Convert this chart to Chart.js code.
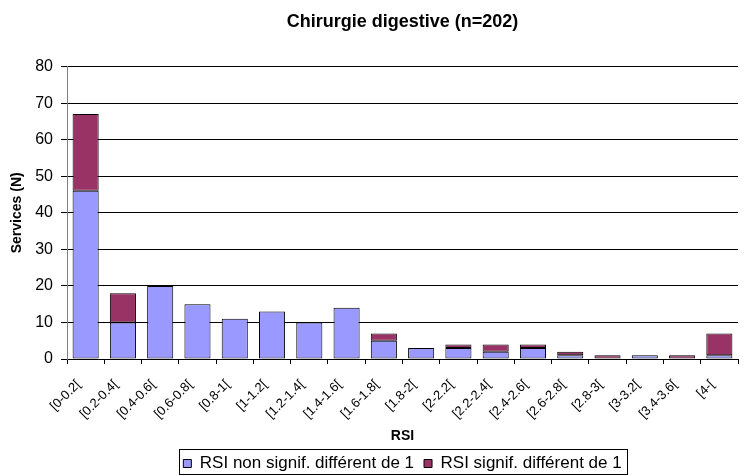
<!DOCTYPE html>
<html>
<head>
<meta charset="utf-8">
<script src="https://cdn.jsdelivr.net/npm/chart.js@4/dist/chart.umd.min.js"></script>
<style>
  html, body { margin: 0; padding: 0; background: #fff; }
  #wrap { width: 746px; height: 475px; }
</style>
</head>
<body>
<div id="wrap"><canvas id="rsiChart" width="746" height="475"></canvas></div>
<script>
// RSI classes (x axis)
const categories = ['[0-0.2[', '[0.2-0.4[', '[0.4-0.6[', '[0.6-0.8[', '[0.8-1[', '[1-1.2[',
    '[1.2-1.4[', '[1.4-1.6[', '[1.6-1.8[', '[1.8-2[', '[2-2.2[', '[2.2-2.4[', '[2.4-2.6[',
    '[2.6-2.8[', '[2.8-3[', '[3-3.2[', '[3.4-3.6[', '[4-['];

// services per class
const nonSignif = [46, 10, 20, 15, 11, 13, 10, 14, 5, 3, 3, 2, 3, 1, 0, 1, 0, 1];
const signif = [21, 8, 0, 0, 0, 0, 0, 0, 2, 0, 1, 2, 1, 1, 1, 0, 1, 6];

const yTicks = [0, 10, 20, 30, 40, 50, 60, 70, 80];

const FONT = 'Arial, "Liberation Sans", sans-serif';
const LEGEND_HEIGHT = 30;

// keep the legend box short even with wide item spacing
const legendFit = {
    id: 'legendFit',
    beforeLayout(chart) {
        const lg = chart.legend;
        if (lg && !lg._fitPatched) {
            const origFit = lg.fit;
            lg.fit = function () {
                origFit.call(this);
                this.height = LEGEND_HEIGHT;
            };
            lg._fitPatched = true;
        }
    }
};

// border around the legend, like the Excel one
const legendBorder = {
    id: 'legendBorder',
    afterDraw(chart) {
        const lg = chart.legend;
        if (!lg || !lg.legendHitBoxes || !lg.legendHitBoxes.length) return;
        const boxes = lg.legendHitBoxes;
        const left = Math.min(...boxes.map(b => b.left)) - 4;
        const right = Math.max(...boxes.map(b => b.left + b.width)) + 6;
        const top = Math.min(...boxes.map(b => b.top)) - 6;
        const bottom = Math.min(chart.height - 1, Math.max(...boxes.map(b => b.top + b.height)) + 3);
        const ctx = chart.ctx;
        ctx.save();
        ctx.strokeStyle = '#000';
        ctx.lineWidth = 1;
        ctx.strokeRect(Math.round(left) + 0.5, Math.round(top) + 0.5, Math.round(right - left), Math.round(bottom - top));
        ctx.restore();
    }
};

new Chart(document.getElementById('rsiChart').getContext('2d'), {
    type: 'bar',
    data: {
        labels: categories,
        datasets: [{
            label: 'RSI non signif. différent de 1',
            data: nonSignif,
            backgroundColor: '#9999FF',
            borderColor: '#000',
            borderWidth: 1,
            borderSkipped: false
        }, {
            label: 'RSI signif. différent de 1',
            data: signif,
            backgroundColor: '#993366',
            borderColor: '#000',
            borderWidth: 1,
            borderSkipped: false
        }]
    },
    options: {
        responsive: false,
        animation: false,
        layout: { padding: { left: 0, right: 8, top: 0, bottom: 0 } },
        datasets: { bar: { barPercentage: 0.7, categoryPercentage: 1 } },
        plugins: {
            title: {
                display: true,
                text: 'Chirurgie digestive (n=202)',
                fullSize: false,
                color: '#000',
                font: { family: FONT, size: 18, weight: 'bold' },
                padding: { top: 11, bottom: 34 }
            },
            legend: {
                position: 'bottom',
                fullSize: false,
                labels: {
                    color: '#000',
                    font: { family: FONT, size: 17 },
                    boxWidth: 8,
                    boxHeight: 8,
                    padding: 10
                }
            },
            tooltip: { enabled: false }
        },
        scales: {
            x: {
                stacked: true,
                grid: { drawOnChartArea: false, color: '#000', tickLength: 5, offset: true },
                border: { color: '#000' },
                ticks: {
                    color: '#000',
                    font: { family: FONT, size: 13 },
                    minRotation: 45,
                    maxRotation: 45,
                    autoSkip: false,
                    padding: 13,
                    labelOffset: -7
                },
                title: {
                    display: true,
                    text: 'RSI',
                    color: '#000',
                    font: { family: FONT, size: 14, weight: 'bold' },
                    padding: { top: 0, bottom: 0 }
                },
                afterFit: scale => { scale.height = 475 - LEGEND_HEIGHT - 359; }
            },
            y: {
                stacked: true,
                min: 0,
                max: 80,
                afterBuildTicks: scale => { scale.ticks = yTicks.map(v => ({ value: v })); },
                grid: { color: '#000', tickLength: 6 },
                border: { color: '#808080' },
                ticks: {
                    color: '#000',
                    font: { family: FONT, size: 16 },
                    padding: 8
                },
                title: {
                    display: true,
                    text: 'Services (N)',
                    color: '#000',
                    font: { family: FONT, size: 14, weight: 'bold' },
                    padding: { top: 9, bottom: 0 }
                },
                afterFit: scale => { scale.width = 67; }
            }
        }
    },
    plugins: [legendFit, legendBorder]
});
</script>
</body>
</html>
